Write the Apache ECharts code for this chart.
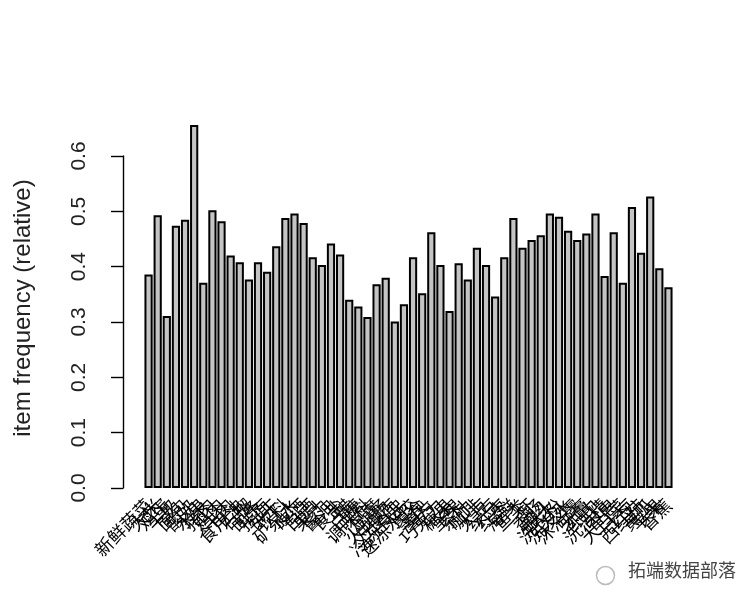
<!DOCTYPE html>
<html>
<head>
<meta charset="utf-8">
<script src="https://cdn.jsdelivr.net/npm/echarts@6/dist/echarts.min.js"></script>
<style>html,body{margin:0;padding:0;background:#fff;}#c{width:756px;height:606px;}</style>
</head>
<body>
<div id="c"></div>
<script>
const categories = ["新鲜蔬菜","大米","鸡蛋","牛奶","面包","酸奶","水果","猪肉","鸡肉","牛肉","食用油","石榴","面条","挂面","饼干","饮料","矿泉水","啤酒","白酒","果汁","酱油","食盐","醋","白糖","调味料","豆腐","火腿肠","方便面","冷冻食品","速冻水饺","零食","薯片","巧克力","糖果","坚果","茶叶","咖啡","大豆","绿豆","红枣","海鲜","鱼类","虾","香肠","罐头","洗衣粉","洗发水","沐浴露","牙膏","纸巾","洗洁精","香皂","大白菜","土豆","西红柿","黄瓜","苹果","香蕉"];
const values = [0.386,0.493,0.311,0.474,0.485,0.656,0.371,0.502,0.482,0.420,0.408,0.377,0.408,0.391,0.437,0.488,0.496,0.479,0.417,0.403,0.442,0.422,0.340,0.328,0.309,0.368,0.380,0.301,0.332,0.417,0.352,0.462,0.403,0.320,0.406,0.377,0.434,0.403,0.346,0.417,0.488,0.434,0.448,0.457,0.496,0.490,0.465,0.448,0.460,0.496,0.383,0.462,0.371,0.508,0.425,0.527,0.397,0.363];
const yTicks = [0, 0.1, 0.2, 0.3, 0.4, 0.5, 0.6];
const yTitle = "item frequency (relative)";
const watermark = "拓端数据部落";

const chart = echarts.init(document.getElementById('c'), null, {renderer: 'canvas'});
chart.setOption({
  animation: false,
  backgroundColor: '#ffffff',
  grid: {left: 144, right: 83, top: 156, bottom: 118, containLabel: false},
  xAxis: {
    type: 'category',
    data: categories,
    axisLine: {show: false},
    axisTick: {show: false},
    axisLabel: {
      interval: 0, rotate: 45, margin: 14,
      fontFamily: 'Noto Sans CJK SC', fontSize: 18, color: '#000'
    }
  },
  yAxis: {
    type: 'value',
    min: yTicks[0], max: yTicks[yTicks.length - 1], interval: 0.1,
    offset: 21,
    splitLine: {show: false},
    axisLine: {show: true, lineStyle: {color: '#000', width: 1.4}},
    axisTick: {show: true, length: 12, lineStyle: {color: '#000', width: 1.4}},
    axisLabel: {
      rotate: 90, margin: 33, color: '#222',
      fontFamily: 'Liberation Sans', fontSize: 21,
      formatter: v => v.toFixed(1)
    },
    name: yTitle,
    nameLocation: 'middle',
    nameRotate: 90,
    nameGap: 88,
    nameTextStyle: {fontFamily: 'Liberation Sans', fontSize: 24, color: '#222', padding: [0, 0, 0, 28]}
  },
  series: [{
    type: 'bar',
    data: values,
    clip: false,
    barCategoryGap: '10%',
    itemStyle: {color: '#c4c4c4', borderColor: '#000', borderWidth: 2}
  }],
  graphic: [
    {
      type: 'circle', left: 594, top: 564,
      shape: {r: 9},
      style: {fill: 'none', stroke: '#bbb', lineWidth: 1.5}
    },
    {
      type: 'text', left: 627, top: 560,
      style: {text: watermark, fontFamily: 'Noto Sans CJK SC', fontSize: 18, fill: '#444', stroke: '#fff', lineWidth: 2}
    }
  ]
});
</script>
</body>
</html>
